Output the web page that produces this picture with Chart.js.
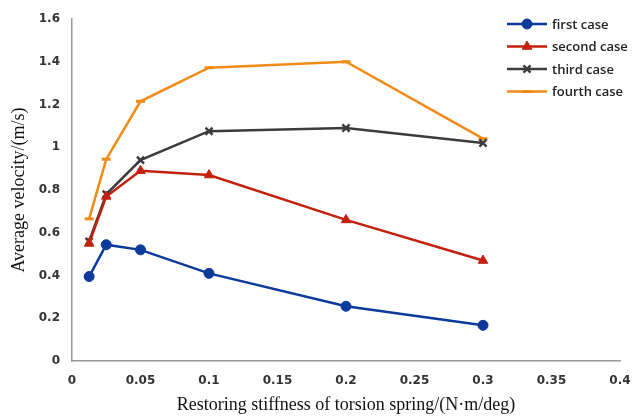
<!DOCTYPE html>
<html><head><meta charset="utf-8">
<script src="https://cdn.jsdelivr.net/npm/chart.js@4"></script>
<style>html,body{margin:0;padding:0;background:#fff}#wrap{width:635px;height:416px}</style>
</head><body><div id="wrap"><canvas id="c"></canvas></div>
<script>
const stiffness = [0.0125, 0.025, 0.05, 0.1, 0.2, 0.3];
const firstCase  = [0.395, 0.544, 0.52, 0.41, 0.256, 0.167];
const secondCase = [0.55, 0.77, 0.89, 0.87, 0.66, 0.47];
const thirdCase  = [0.56, 0.78, 0.94, 1.075, 1.09, 1.02];
const fourthCase = [0.665, 0.944, 1.215, 1.372, 1.40, 1.04];
const seriesNames = ['first case', 'second case', 'third case', 'fourth case'];

const colors = ['#0b3a9c', '#c4200e', '#3c3c3c', '#f28a17'];
const styles = ['circle', 'triangle', 'crossRot', 'line'];
const radii = [5, 5.5, 5, 4.5];
const pbw = [1, 1, 2.5, 3];
const values = [firstCase, secondCase, thirdCase, fourthCase];

const datasets = values.map((v, i) => ({
  label: seriesNames[i],
  data: stiffness.map((x, j) => ({x: x, y: v[j]})),
  borderColor: colors[i],
  backgroundColor: colors[i],
  borderWidth: 2.5,
  pointStyle: styles[i],
  pointRadius: radii[i],
  pointBorderWidth: pbw[i],
  tension: 0
}));

const fmt = v => parseFloat(Number(v).toFixed(3)).toString();

const legendPlugin = {
  id: 'customLegend',
  afterDraw(chart) {
    const ctx = chart.ctx;
    ctx.save();
    chart.data.datasets.forEach((ds, i) => {
      const y = 24 + i * 22.5;
      ctx.strokeStyle = ds.borderColor;
      ctx.lineWidth = 2.5;
      ctx.beginPath(); ctx.moveTo(507, y); ctx.lineTo(547, y); ctx.stroke();
      ctx.fillStyle = ds.borderColor;
      ctx.lineWidth = ds.pointBorderWidth;
      Chart.helpers.drawPoint(ctx, {pointStyle: ds.pointStyle, radius: ds.pointRadius, rotation: 0, borderWidth: ds.pointBorderWidth}, 527, y);
      ctx.fillStyle = '#222';
      ctx.font = '600 13px "Open Sans"';
      ctx.textBaseline = 'middle';
      ctx.textAlign = 'left';
      ctx.fillText(ds.label, 552, y + 1);
    });
    ctx.restore();
  }
};

new Chart(document.getElementById('c'), {
  type: 'line',
  data: {datasets},
  options: {
    responsive: true,
    maintainAspectRatio: false,
    animation: false,
    devicePixelRatio: 1,
    layout: {padding: {left: 0, right: 15, top: 19, bottom: 0}},
    plugins: {legend: {display: false}, tooltip: {enabled: false}},
    scales: {
      x: {
        type: 'linear', min: 0, max: 0.4,
        ticks: {stepSize: 0.05, padding: 13, color: '#333', font: {family: 'DejaVu Sans', size: 12, weight: 'bold'}, maxRotation: 0, callback: fmt},
        grid: {display: false, drawTicks: false},
        border: {display: true, color: '#999', width: 1.5},
        title: {display: true, text: 'Restoring stiffness of torsion spring/(N·m/deg)', color: '#111', font: {family: 'Liberation Serif', size: 18}, padding: {top: 4, bottom: 0}},
        afterFit(s) { s.height = 55; s.paddingLeft = 0; s.paddingRight = 0; }
      },
      y: {
        min: 0, max: 1.6,
        ticks: {stepSize: 0.2, padding: 12, color: '#333', font: {family: 'DejaVu Sans', size: 12, weight: 'bold'}, callback: fmt},
        grid: {display: false, drawTicks: false},
        border: {display: true, color: '#999', width: 1.5},
        title: {display: true, text: 'Average velocity/(m/s)', color: '#111', font: {family: 'Liberation Serif', size: 18}, padding: {top: 8, bottom: 0}},
        afterFit(s) { s.width = 72; s.paddingTop = 0; s.paddingBottom = 0; }
      }
    }
  },
  plugins: [legendPlugin]
});
</script></body></html>
